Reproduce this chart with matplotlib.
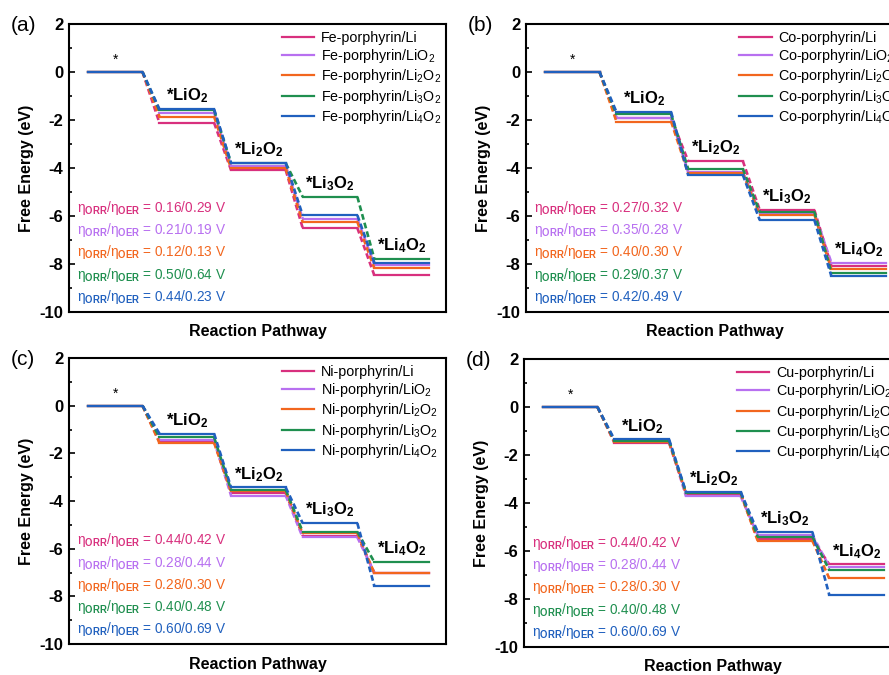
import numpy as np
import matplotlib
matplotlib.use('Agg')
import matplotlib.pyplot as plt
from matplotlib.ticker import MultipleLocator

plt.rcParams['font.family'] = ['Liberation Sans', 'DejaVu Sans']
plt.rcParams['mathtext.fontset'] = 'custom'
plt.rcParams['mathtext.rm'] = 'Liberation Sans'
plt.rcParams['mathtext.it'] = 'Liberation Sans:italic'
plt.rcParams['mathtext.bf'] = 'Liberation Sans:bold'
plt.rcParams['axes.unicode_minus'] = False

# data
metals = ['Fe', 'Co', 'Ni', 'Cu']
panel_tags = ['(a)', '(b)', '(c)', '(d)']
species = ['Li', 'LiO$_2$', 'Li$_2$O$_2$', 'Li$_3$O$_2$', 'Li$_4$O$_2$']
step_labels = ['*', '*LiO$_\\mathbf{2}$', '*Li$_\\mathbf{2}$O$_\\mathbf{2}$',
               '*Li$_\\mathbf{3}$O$_\\mathbf{2}$', '*Li$_\\mathbf{4}$O$_\\mathbf{2}$']
colors = ['#D8307E', '#B870F0', '#F2661E', '#1F8F4F', '#2060BE']

# free energy of each state: * , *LiO2, *Li2O2, *Li3O2, *Li4O2
energies = {
    'Fe': [[0, -2.12, -4.09, -6.50, -8.47],
           [0, -1.70, -3.91, -6.11, -8.03],
           [0, -1.86, -4.02, -6.25, -8.17],
           [0, -1.60, -3.80, -5.20, -7.78],
           [0, -1.55, -3.79, -5.97, -7.94]],
    'Co': [[0, -1.93, -3.70, -5.75, -8.08],
           [0, -1.90, -4.16, -5.88, -7.94],
           [0, -2.07, -4.21, -5.94, -8.22],
           [0, -1.77, -4.03, -5.83, -8.36],
           [0, -1.67, -4.28, -6.17, -8.50]],
    'Ni': [[0, -1.50, -3.67, -5.45, -7.02],
           [0, -1.45, -3.77, -5.52, -7.00],
           [0, -1.56, -3.60, -5.36, -7.02],
           [0, -1.33, -3.53, -5.29, -6.56],
           [0, -1.17, -3.43, -4.93, -7.56]],
    'Cu': [[0, -1.49, -3.62, -5.50, -6.56],
           [0, -1.42, -3.72, -5.33, -6.65],
           [0, -1.46, -3.60, -5.57, -7.14],
           [0, -1.40, -3.57, -5.40, -6.79],
           [0, -1.35, -3.54, -5.20, -7.83]],
}
overpot = {
    'Fe': ['0.16/0.29', '0.21/0.19', '0.12/0.13', '0.50/0.64', '0.44/0.23'],
    'Co': ['0.27/0.32', '0.35/0.28', '0.40/0.30', '0.29/0.37', '0.42/0.49'],
    'Ni': ['0.44/0.42', '0.28/0.44', '0.28/0.30', '0.40/0.48', '0.60/0.69'],
    'Cu': ['0.44/0.42', '0.28/0.44', '0.28/0.30', '0.40/0.48', '0.60/0.69'],
}

x0 = 0.5      # start of first plateau
pitch = 1.9   # distance between plateau starts
width = 1.45  # plateau length

fig = plt.figure(figsize=(8.89, 6.75), dpi=100)
rects = [[0.0776, 0.5378, 0.424, 0.4267],
         [0.5917, 0.5378, 0.424, 0.4267],
         [0.0776, 0.0459, 0.424, 0.4237],
         [0.5894, 0.0415, 0.424, 0.4265]]

for k, m in enumerate(metals):
    ax = fig.add_axes(rects[k])
    E = np.array(energies[m])
    starts = x0 + pitch * np.arange(E.shape[1])
    ends = starts + width
    for i in range(E.shape[0]):
        c = colors[i]
        for j in range(E.shape[1]):
            ax.plot([starts[j], ends[j]], [E[i, j], E[i, j]], color=c, lw=1.6,
                    label=m + '-porphyrin/' + species[i] if j == 0 else None)
            if j < E.shape[1] - 1:
                ax.plot([ends[j], starts[j + 1]], [E[i, j], E[i, j + 1]],
                        color=c, lw=1.9, ls=(0, (2.2, 1.2)))
    # state labels
    for j in range(E.shape[1]):
        top = E[:, j].max()
        if j == 0:
            ax.text(starts[j] + width / 2, top + 0.5, step_labels[j],
                    ha='center', va='center', fontsize=10)
        else:
            ax.text(starts[j] + width / 2, top + 0.55, step_labels[j],
                    ha='center', va='center', fontsize=12, fontweight='bold')
    # overpotential notes
    for i in range(E.shape[0]):
        ax.text(0.2, -5.65 - 0.93 * i,
                'η$_{\\mathbf{ORR}}$/η$_{\\mathbf{OER}}$ = ' + overpot[m][i] + ' V',
                color=colors[i], fontsize=9.8, ha='left', va='center')

    ax.set_xlim(0, 10)
    ax.set_ylim(-10, 2)
    ax.set_xticks([])
    ax.yaxis.set_major_locator(MultipleLocator(2))
    ax.yaxis.set_minor_locator(MultipleLocator(1))
    ax.tick_params(axis='y', which='both', direction='in', width=1.2)
    ax.tick_params(axis='y', which='major', length=4, labelsize=12, pad=4)
    ax.tick_params(axis='y', which='minor', length=2)
    for lab in ax.get_yticklabels():
        lab.set_fontweight('bold')
    for s in ax.spines.values():
        s.set_linewidth(1.5)
    ax.set_xlabel('Reaction Pathway', fontsize=11.5, fontweight='bold', labelpad=9)
    ax.set_ylabel('Free Energy (eV)', fontsize=11.5, fontweight='bold', labelpad=4)
    ax.legend(loc='upper left', bbox_to_anchor=(0.545, 1.0), frameon=False,
              fontsize=10.3, handlelength=2.3, handletextpad=0.45, labelspacing=0.15,
              borderaxespad=0.1)
    ax.text(-0.155, 0.995, panel_tags[k], transform=ax.transAxes, fontsize=15,
            ha='left', va='center')

fig.savefig('out.png', dpi=100)
